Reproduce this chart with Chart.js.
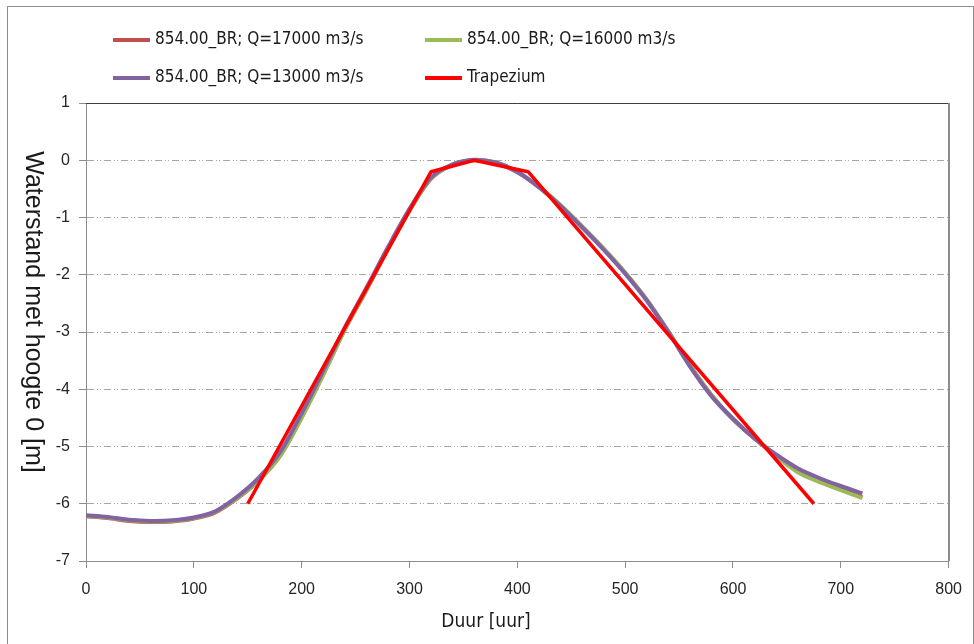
<!DOCTYPE html>
<html>
<head>
<meta charset="utf-8">
<script src="https://cdn.jsdelivr.net/npm/chart.js@4"></script>
<style>
  body { margin: 0; background: #fff; }
  #wrap { width: 974px; height: 644px; }
</style>
</head>
<body>
<div id="wrap"><canvas id="waterChart" width="974" height="644"></canvas></div>
<script>
// duur in uren
const duur = [0, 20, 40, 60, 80, 100, 120, 140, 160, 180, 200, 220, 240, 260, 280, 300, 320, 340, 360,
  380, 400, 420, 440, 460, 480, 500, 520, 540, 560, 580, 600, 620, 640, 660, 680, 700, 720];

// waterstand t.o.v. hoogte 0 [m]
const q17000 = [-6.22, -6.25, -6.3, -6.32, -6.31, -6.26, -6.15, -5.91, -5.6, -5.16, -4.49, -3.74, -2.96, -2.27, -1.55,
  -0.88, -0.32, -0.08, 0.0, -0.05, -0.21, -0.47, -0.79, -1.16, -1.55, -1.97, -2.44, -2.99, -3.58, -4.1, -4.52,
  -4.86, -5.16, -5.42, -5.61, -5.75, -5.89];
const q16000 = [-6.21, -6.24, -6.29, -6.31, -6.3, -6.25, -6.14, -5.9, -5.59, -5.17, -4.5, -3.75, -2.96, -2.26, -1.54,
  -0.87, -0.31, -0.08, 0.0, -0.04, -0.2, -0.46, -0.78, -1.15, -1.54, -1.96, -2.43, -2.99, -3.58, -4.1, -4.52,
  -4.86, -5.17, -5.45, -5.62, -5.76, -5.9];
const q13000 = [-6.2, -6.23, -6.28, -6.3, -6.29, -6.24, -6.13, -5.88, -5.55, -5.1, -4.42, -3.68, -2.92, -2.23, -1.52,
  -0.85, -0.3, -0.07, 0.01, -0.04, -0.2, -0.47, -0.8, -1.17, -1.56, -1.98, -2.45, -3.0, -3.6, -4.12, -4.52,
  -4.86, -5.14, -5.38, -5.55, -5.69, -5.82];

// trapezium
const trapDuur = [150, 320, 360, 410, 675];
const trapStand = [-6, -0.2, 0, -0.2, -6];

const xTicks = [0, 100, 200, 300, 400, 500, 600, 700, 800];
const yTicks = [1, 0, -1, -2, -3, -4, -5, -6, -7];

const toPoints = (xs, ys) => xs.map((x, i) => ({ x: x, y: ys[i] }));

const tickFont = { family: "'Liberation Sans', Arial, sans-serif", size: 16 };
const narrow = "'Liberation Sans Narrow', 'DejaVu Sans Condensed', sans-serif";

// legend + titles + frames drawn by hand (2 column legend like Excel)
const excelDecor = {
  id: "excelDecor",
  afterDraw(chart) {
    const c = chart.ctx;
    const a = chart.chartArea;
    c.save();

    // outer frame
    c.strokeStyle = "#8c8c8c";
    c.lineWidth = 1;
    c.strokeRect(7.5, 6.5, 966, 650);

    // plot area frame
    c.strokeStyle = "#3c3c3c";
    c.beginPath();
    c.moveTo(a.left, Math.round(a.top) + 0.5);
    c.lineTo(a.right, Math.round(a.top) + 0.5);
    c.stroke();
    c.strokeStyle = "#8c8c8c";
    c.lineWidth = 2;
    c.beginPath();
    c.moveTo(Math.round(a.right), a.top);
    c.lineTo(Math.round(a.right), a.bottom);
    c.stroke();

    // legend
    const items = [
      { ds: 0, x: 113, y: 40 },
      { ds: 1, x: 425, y: 40 },
      { ds: 2, x: 113, y: 78 },
      { ds: 3, x: 425, y: 78 }
    ];
    c.font = "17px " + narrow;
    c.textBaseline = "middle";
    c.fillStyle = "#1a1a1a";
    items.forEach(it => {
      const ds = chart.data.datasets[it.ds];
      c.strokeStyle = ds.borderColor;
      c.lineWidth = 4;
      c.beginPath();
      c.moveTo(it.x, it.y);
      c.lineTo(it.x + 37, it.y);
      c.stroke();
      c.fillText(ds.label, it.x + 42, it.y);
    });

    // axis titles
    c.textAlign = "center";
    c.font = "19px " + narrow;
    c.fillText("Duur [uur]", 486, 622);

    c.save();
    c.translate(33, 312);
    c.rotate(Math.PI / 2);
    c.font = "25px 'Liberation Sans', Arial, sans-serif";
    c.fillText("Waterstand met hoogte 0 [m]", 0, 0);
    c.restore();

    c.restore();
  }
};

const ctx = document.getElementById("waterChart").getContext("2d");
new Chart(ctx, {
  type: "scatter",
  data: {
    datasets: [
      {
        label: "854.00_BR; Q=17000 m3/s",
        data: toPoints(duur, q17000),
        borderColor: "#c0504d",
        borderWidth: 4,
        order: 4
      },
      {
        label: "854.00_BR; Q=16000 m3/s",
        data: toPoints(duur, q16000),
        borderColor: "#9bbb59",
        borderWidth: 4,
        order: 3
      },
      {
        label: "854.00_BR; Q=13000 m3/s",
        data: toPoints(duur, q13000),
        borderColor: "#8064a2",
        borderWidth: 4,
        order: 2
      },
      {
        label: "Trapezium",
        data: toPoints(trapDuur, trapStand),
        borderColor: "#ff0000",
        borderWidth: 3.5,
        tension: 0,
        order: 1
      }
    ]
  },
  options: {
    responsive: false,
    animation: false,
    showLine: true,
    elements: {
      point: { radius: 0, hoverRadius: 0 },
      line: { tension: 0.3, fill: false, borderCapStyle: "butt", borderJoinStyle: "round" }
    },
    layout: { padding: { left: 0, right: 25, top: 103, bottom: 0 } },
    plugins: {
      legend: { display: false },
      tooltip: { enabled: false }
    },
    scales: {
      x: {
        type: "linear",
        min: 0,
        max: 800,
        afterBuildTicks: s => { s.ticks = xTicks.map(v => ({ value: v })); },
        afterFit: s => { s.height = 83; },
        ticks: { color: "#262626", font: tickFont, padding: 12, maxRotation: 0 },
        grid: { drawOnChartArea: false, color: "#8c8c8c", tickLength: 7 },
        border: { color: "#8c8c8c", width: 1 }
      },
      y: {
        type: "linear",
        min: -7,
        max: 1,
        afterBuildTicks: s => { s.ticks = yTicks.map(v => ({ value: v })); },
        afterFit: s => { s.width = 86; },
        ticks: { color: "#262626", font: tickFont, padding: 9 },
        grid: { color: "#a6a6a6", tickColor: "#8c8c8c", tickLength: 7, tickBorderDash: [] },
        border: { color: "#8c8c8c", width: 1, dash: [7, 3, 1, 2, 1, 3] }
      }
    }
  },
  plugins: [excelDecor]
});
</script>
</body>
</html>
